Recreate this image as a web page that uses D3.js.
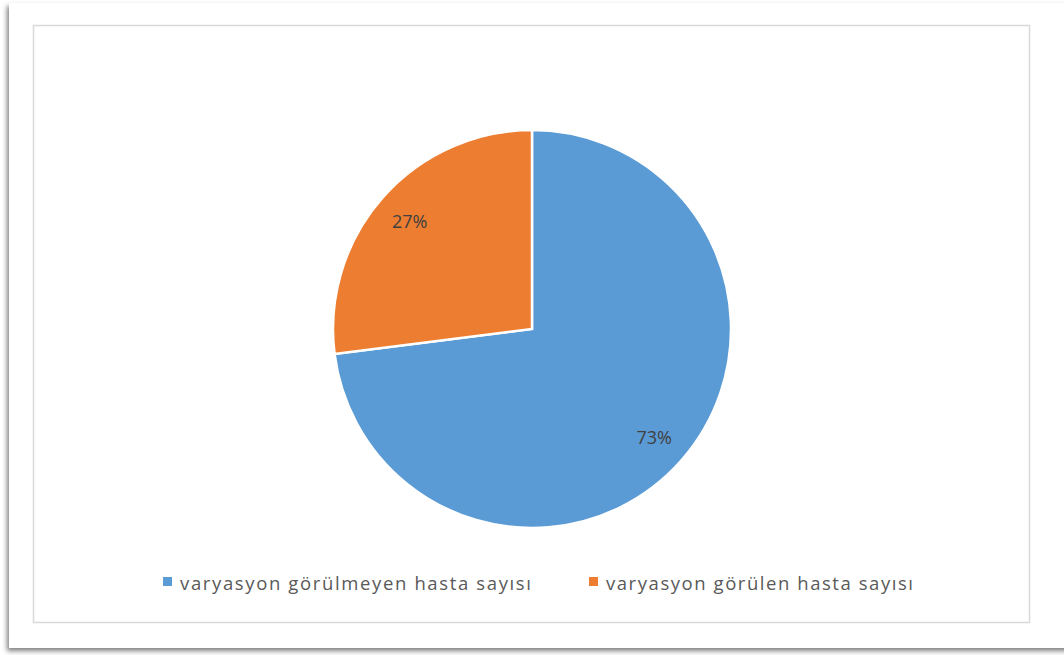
<!DOCTYPE html>
<html><head><meta charset="utf-8">
<script src="https://cdn.jsdelivr.net/npm/d3@7"></script>
<style>body{margin:0;background:#fff;}svg{display:block;}</style>
</head><body>
<svg id="c" width="1064" height="655"></svg>
<script>
const categories = ["varyasyon görülmeyen hasta sayısı", "varyasyon görülen hasta sayısı"];
const values = [73, 27];
const labels = ["73%", "27%"];
const colors = ["#5B9BD5", "#ED7D31"];

const svg = d3.select("#c");
const defs = svg.append("defs");
const f = defs.append("filter").attr("id","sh").attr("x","-5%").attr("y","-5%").attr("width","110%").attr("height","110%");
f.append("feDropShadow").attr("dx",-2).attr("dy",3).attr("stdDeviation",2.5).attr("flood-color","#000").attr("flood-opacity",0.5);

svg.append("rect").attr("x",9).attr("y",3).attr("width",1070).attr("height",645)
  .attr("fill","#fff").attr("filter","url(#sh)");
svg.append("rect").attr("x",33.5).attr("y",25.5).attr("width",996).attr("height",597)
  .attr("fill","#fff").attr("stroke","#d9d9d9").attr("stroke-width",1.5);

const cx = 532, cy = 329, r = 199;
const pie = d3.pie().sort(null).value(d => d)(values);
const arc = d3.arc().innerRadius(0).outerRadius(r);
const labelArc = d3.arc().innerRadius(163).outerRadius(163);
const g = svg.append("g").attr("transform",`translate(${cx},${cy})`);
g.selectAll("path").data(pie).join("path")
  .attr("d", arc).attr("fill",(d,i)=>colors[i]).attr("stroke","#fff").attr("stroke-width",2.5);
g.selectAll("text").data(pie).join("text")
  .attr("transform", d => `translate(${labelArc.centroid(d)})`)
  .attr("text-anchor","middle").attr("dominant-baseline","central")
  .attr("font-family","'Open Sans', sans-serif").attr("font-size",18)
  .attr("fill","#404040").text((d,i)=>labels[i]);

const legX = [163, 589], legW = [351, 307];
const lg = svg.append("g");
categories.forEach((c,i)=>{
  lg.append("rect").attr("x",legX[i]).attr("y",577).attr("width",9).attr("height",9).attr("fill",colors[i]);
  lg.append("text").attr("x",legX[i]+17).attr("y",582).attr("dominant-baseline","central")
    .attr("font-family","'Open Sans', sans-serif").attr("font-size",18.5).attr("fill","#595959")
    .attr("textLength",legW[i]).attr("lengthAdjust","spacing").text(c);
});
</script>
</body></html>
